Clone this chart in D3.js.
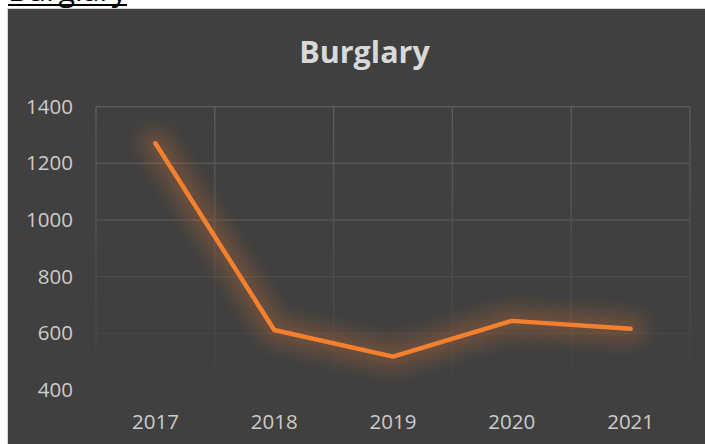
<!DOCTYPE html>
<html>
<head>
<meta charset="utf-8">
<script src="https://cdn.jsdelivr.net/npm/d3@7"></script>
<style>
  html, body { margin: 0; padding: 0; background: #ffffff; overflow: hidden; }
  svg { display: block; }
</style>
</head>
<body>
<script>
// Burglary counts per year
const years = ["2017", "2018", "2019", "2020", "2021"];
const burglaries = [1271, 612, 518, 644, 616];
const yTicks = [400, 600, 800, 1000, 1200, 1400];
const chartTitle = "Burglary";

const W = 705, H = 444;
const plot = { left: 96, right: 690, top: 106.7, bottom: 390 };

const svg = d3.select("body").append("svg")
  .attr("width", W).attr("height", H);

const defs = svg.append("defs");

// soft glow behind the line
const glow = defs.append("filter").attr("id", "glow")
  .attr("x", "-30%").attr("y", "-30%").attr("width", "160%").attr("height", "160%");
glow.append("feGaussianBlur").attr("stdDeviation", 9);

// gridlines fade toward the bottom of the plot
const gridGrad = defs.append("linearGradient").attr("id", "gridFade")
  .attr("gradientUnits", "userSpaceOnUse")
  .attr("x1", 0).attr("y1", plot.top).attr("x2", 0).attr("y2", plot.bottom);
gridGrad.append("stop").attr("offset", 0).attr("stop-color", "#5d5d5d");
gridGrad.append("stop").attr("offset", 1).attr("stop-color", "#414141");

// heading above the chart (mostly out of view)
svg.append("text")
  .attr("x", 8).attr("y", 1)
  .attr("font-family", "Open Sans, sans-serif")
  .attr("font-size", 28)
  .attr("fill", "#000")
  .attr("textLength", 119)
  .attr("lengthAdjust", "spacingAndGlyphs")
  .text(chartTitle);
svg.append("rect")
  .attr("x", 8).attr("y", 4).attr("width", 119).attr("height", 2)
  .attr("fill", "#000");

// chart frame
svg.append("rect")
  .attr("x", 7.5).attr("y", 8.5)
  .attr("width", W).attr("height", H)
  .attr("fill", "#404040")
  .attr("stroke", "#d4d4d4").attr("stroke-width", 1);

const x = d3.scaleBand().domain(years).range([plot.left, plot.right]).padding(0);
const y = d3.scaleLinear().domain([400, 1400]).range([plot.bottom, plot.top]);

// horizontal gridlines
svg.append("g").selectAll("line").data(yTicks).join("line")
  .attr("x1", plot.left).attr("x2", plot.right)
  .attr("y1", d => y(d)).attr("y2", d => y(d))
  .attr("stroke", "url(#gridFade)").attr("stroke-width", 1.3);

// vertical gridlines at category boundaries
const bounds = years.map(d => x(d)).concat([plot.right]);
svg.append("g").selectAll("line").data(bounds).join("line")
  .attr("x1", d => d).attr("x2", d => d)
  .attr("y1", plot.top).attr("y2", plot.bottom)
  .attr("stroke", "url(#gridFade)").attr("stroke-width", 1.3);

// y axis labels
const yAxis = d3.axisLeft(y).tickValues(yTicks).tickFormat(d3.format("d"))
  .tickSize(0).tickPadding(0);
const gy = svg.append("g").attr("transform", `translate(73,0)`).call(yAxis);
gy.select(".domain").remove();
gy.selectAll("text")
  .attr("font-family", "Open Sans, sans-serif")
  .attr("font-size", 20.5)
  .attr("fill", "#cccccc");

// x axis labels
const xAxis = d3.axisBottom(x).tickSize(0).tickPadding(0);
const gx = svg.append("g").attr("transform", `translate(0,${plot.bottom})`).call(xAxis);
gx.select(".domain").remove();
gx.selectAll("text")
  .attr("dy", null)
  .attr("y", 39)
  .attr("font-family", "Open Sans, sans-serif")
  .attr("font-size", 20.5)
  .attr("fill", "#cccccc");

// title
svg.append("text")
  .attr("x", 364.5).attr("y", 62.7)
  .attr("text-anchor", "middle")
  .attr("font-family", "Open Sans, sans-serif")
  .attr("font-weight", 700)
  .attr("font-size", 30.5)
  .attr("fill", "#d9d9d9")
  .text(chartTitle);

const line = d3.line()
  .x((d, i) => x(years[i]) + x.bandwidth() / 2)
  .y(d => y(d));

// glow
svg.append("path")
  .datum(burglaries)
  .attr("d", line)
  .attr("fill", "none")
  .attr("stroke", "#ed7d31")
  .attr("stroke-opacity", 0.26)
  .attr("stroke-width", 28)
  .attr("stroke-linecap", "round")
  .attr("stroke-linejoin", "round")
  .attr("filter", "url(#glow)");

// series line
svg.append("path")
  .datum(burglaries)
  .attr("d", line)
  .attr("fill", "none")
  .attr("stroke", "#f4802e")
  .attr("stroke-width", 4.5)
  .attr("stroke-linecap", "round")
  .attr("stroke-linejoin", "round");
</script>
</body>
</html>
